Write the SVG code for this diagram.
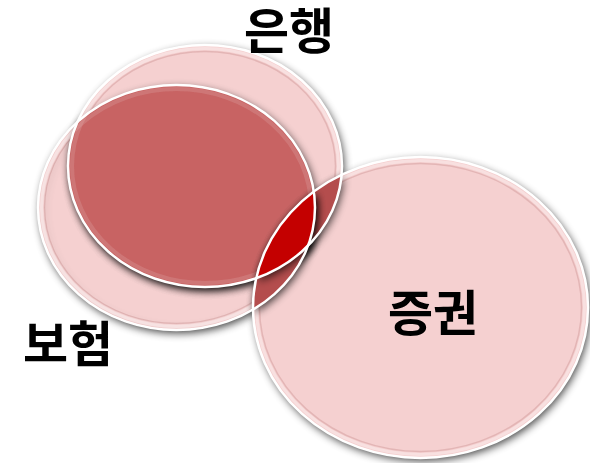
<svg xmlns="http://www.w3.org/2000/svg" width="590" height="463" viewBox="0 0 590 463">
  <style>
    .pale { fill: #f5d0d0; }
    .outline { fill: none; stroke: #ffffff; stroke-width: 2.5; }
    .hi { fill: none; stroke: #ffffff; stroke-opacity: 0.35; stroke-width: 3; }
    .rim { fill: none; stroke: #8a2a2a; stroke-opacity: 0.16; stroke-width: 1.5; }
    .lenshi { fill: none; stroke: #ffffff; stroke-opacity: 0.12; stroke-width: 4; }
    .label { font-family: "Noto Sans CJK KR", "Noto Sans", sans-serif; font-weight: 700; font-size: 49px; fill: #000000; }
  </style>
  <defs>
    <filter id="shadow" x="-20%" y="-20%" width="140%" height="140%">
      <feGaussianBlur in="SourceAlpha" stdDeviation="4.5"/>
      <feOffset dx="2" dy="3" result="b"/>
      <feComponentTransfer><feFuncA type="linear" slope="0.75"/></feComponentTransfer>
      <feMerge><feMergeNode/><feMergeNode in="SourceGraphic"/></feMerge>
    </filter>
    <clipPath id="clipBank"><ellipse cx="205" cy="166" rx="137" ry="121"/></clipPath>
    <clipPath id="clipIns"><ellipse cx="176.5" cy="207.5" rx="138.5" ry="122.5"/></clipPath>
    <clipPath id="clipSec"><ellipse cx="420.5" cy="307.5" rx="167.5" ry="150.5"/></clipPath>
  </defs>

  <g id="node-insurance">
    <ellipse class="pale" cx="176.5" cy="207.5" rx="138.5" ry="122.5" filter="url(#shadow)"/>
    <ellipse class="hi" cx="176.5" cy="207.5" rx="135" ry="119"/>
    <ellipse class="rim" cx="176.5" cy="207.5" rx="132" ry="116"/>
  </g>
  <g id="node-bank">
    <ellipse class="pale" cx="205" cy="166" rx="137" ry="121" filter="url(#shadow)"/>
    <ellipse class="hi" cx="205" cy="166" rx="133.5" ry="117.5"/>
    <ellipse class="rim" cx="205" cy="166" rx="130.5" ry="114.5"/>
  </g>
  <g id="node-securities">
    <ellipse class="pale" cx="420.5" cy="307.5" rx="167.5" ry="150.5" filter="url(#shadow)"/>
    <ellipse class="hi" cx="420.5" cy="307.5" rx="164" ry="147"/>
    <ellipse class="rim" cx="420.5" cy="307.5" rx="161" ry="144"/>
  </g>

  <g id="overlap-bank-insurance" filter="url(#shadow)">
    <g clip-path="url(#clipIns)">
      <ellipse cx="205" cy="166" rx="137" ry="121" fill="#c86464"/>
      <ellipse class="lenshi" cx="205" cy="166" rx="133" ry="117"/>
      <ellipse class="lenshi" cx="176.5" cy="207.5" rx="134.5" ry="118.5"/>
    </g>
  </g>
  <g id="overlap-bank-securities" filter="url(#shadow)">
    <g clip-path="url(#clipSec)">
      <ellipse cx="205" cy="166" rx="137" ry="121" fill="#b44e4e"/>
    </g>
  </g>
  <g id="overlap-insurance-securities" filter="url(#shadow)">
    <g clip-path="url(#clipSec)">
      <ellipse cx="176.5" cy="207.5" rx="138.5" ry="122.5" fill="#b44e4e"/>
    </g>
  </g>
  <g id="overlap-all" filter="url(#shadow)">
    <g clip-path="url(#clipSec)">
      <g clip-path="url(#clipIns)">
        <ellipse cx="205" cy="166" rx="137" ry="121" fill="#c40000"/>
      </g>
    </g>
  </g>

  <g id="outlines">
    <ellipse class="outline" cx="176.5" cy="207.5" rx="138.5" ry="122.5"/>
    <ellipse class="outline" cx="205" cy="166" rx="137" ry="121"/>
    <ellipse class="outline" cx="420.5" cy="307.5" rx="167.5" ry="150.5"/>
  </g>

  <g id="labels">
    <text class="label" x="289" y="49" text-anchor="middle">은행</text>
    <text class="label" x="68" y="362" text-anchor="middle">보험</text>
    <text class="label" x="433" y="331" text-anchor="middle">증권</text>
  </g>
</svg>
